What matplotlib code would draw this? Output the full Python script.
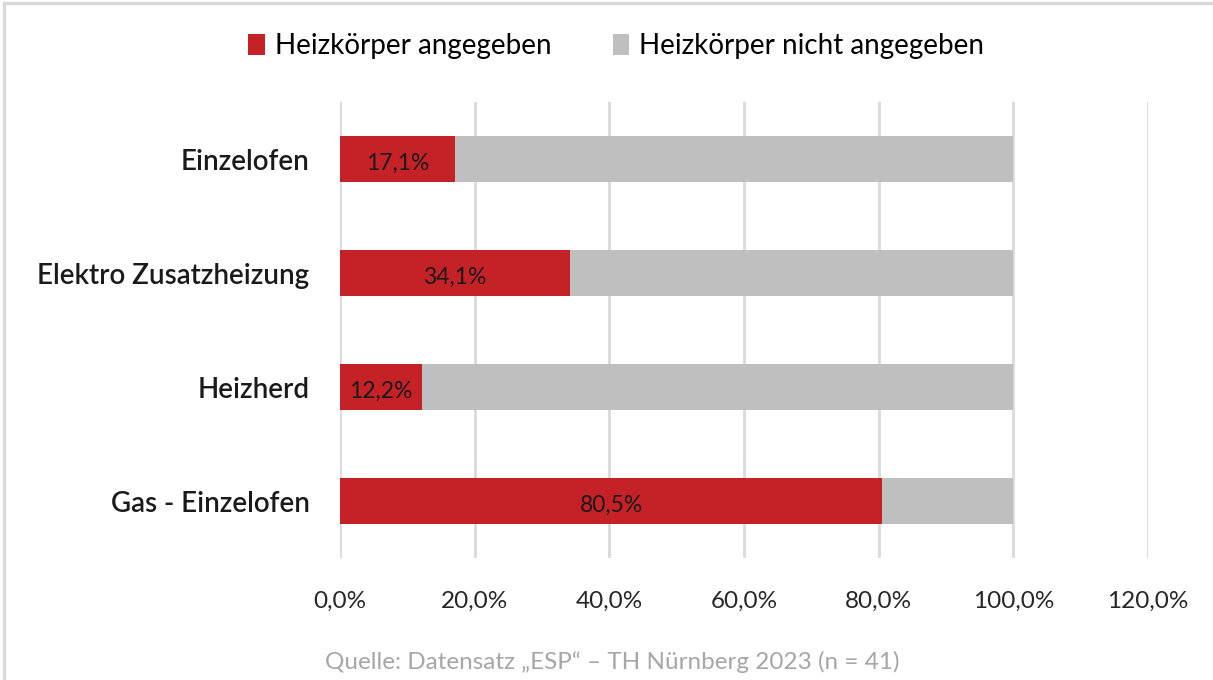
import matplotlib.pyplot as plt
from matplotlib.patches import Rectangle
from matplotlib.ticker import FuncFormatter

# Daten
kategorien = ["Gas - Einzelofen", "Heizherd", "Elektro Zusatzheizung", "Einzelofen"]
angegeben = [80.5, 12.2, 34.1, 17.1]
nicht_angegeben = [19.5, 87.8, 65.9, 82.9]
x_ticks = [0, 20, 40, 60, 80, 100, 120]

rot = "#C52228"
grau = "#BFBFBF"

plt.rcParams['font.family'] = ['Lato', 'DejaVu Sans']

fig = plt.figure(figsize=(12.13, 6.8), dpi=100)
ax = fig.add_axes([0.2803, 0.1794, 0.6661, 0.6706])

y = range(len(kategorien))
ax.barh(y, angegeben, height=0.4, color=rot, label="Heizkörper angegeben", zorder=3)
ax.barh(y, nicht_angegeben, left=angegeben, height=0.4, color=grau,
        label="Heizkörper nicht angegeben", zorder=3)

# Werte in den roten Balken
for i, v in enumerate(angegeben):
    ax.text(v / 2, i - 0.04, f"{v:.1f}%".replace(".", ","), ha="center", va="center",
            fontsize=16.5, color="#1a1a1a", zorder=4)

ax.set_xlim(0, 120)
ax.set_ylim(-0.5, 3.5)
ax.set_xticks(x_ticks)
ax.xaxis.set_major_formatter(FuncFormatter(lambda v, p: f"{v:.1f}%".replace(".", ",")))
ax.set_yticks(list(y))
ax.set_yticklabels(kategorien, fontsize=20, fontweight="semibold", color="#1a1a1a")
ax.tick_params(axis="x", labelsize=17.5, length=0, pad=24, labelcolor="#262626")
ax.tick_params(axis="y", length=0, pad=22)
ax.grid(axis="x", color="#D9D9D9", linewidth=2, zorder=0)
for s in ax.spines.values():
    s.set_visible(False)

h, l = ax.get_legend_handles_labels()
fig.legend(h, l, loc="center", bbox_to_anchor=(0.508, 0.932), ncol=2, frameon=False,
           fontsize=20, handlelength=0.6, handleheight=0.8, handletextpad=0.35,
           columnspacing=2.2)

fig.text(0.505, 0.026, "Quelle: Datensatz „ESP“ – TH Nürnberg 2023 (n = 41)",
         ha="center", va="center", fontsize=17.5, color="#A6A6A6")

# Rahmen
fig.patches.append(Rectangle((0.0035, -0.1), 1.2, 1.0955, transform=fig.transFigure,
                             fill=False, edgecolor="#D9D9D9", linewidth=2.5))

fig.savefig("out.png", dpi=100)
